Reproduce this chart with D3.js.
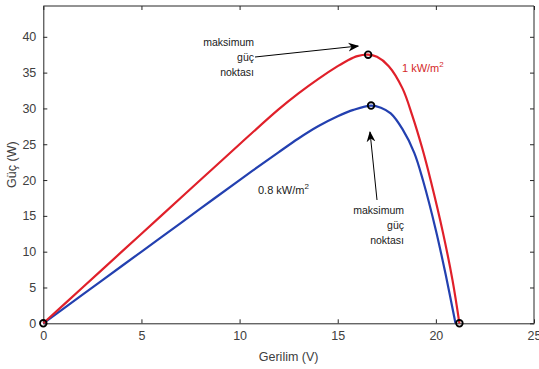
<!DOCTYPE html>
<html>
<head>
<meta charset="utf-8">
<script src="https://cdn.jsdelivr.net/npm/d3@7"></script>
<style>
  html, body { margin: 0; padding: 0; background: #fff; }
  #chart { width: 539px; height: 369px; }
</style>
</head>
<body>
<div id="chart"></div>
<script>
// P-V curves (voltage in V, power in W)
const voltage1kW = [0, 2, 4, 6, 8, 10, 12, 13, 14, 15, 15.5, 16, 16.55, 17, 17.6, 18.3, 18.8, 19.3, 19.75, 20.35, 20.85, 21.2];
const power1kW   = [0, 5.0, 10.0, 15.0, 20.0, 25.0, 29.9, 32.1, 34.1, 35.9, 36.7, 37.3, 37.5, 37.2, 35.9, 32.8, 29.0, 24.5, 19.8, 12.8, 6.0, 0];

const voltage08kW = [0, 2, 4, 6, 8, 10, 12, 13, 14, 15, 15.8, 16.7, 17.2, 17.7, 18.3, 18.9, 19.35, 20.0, 20.5, 21.0];
const power08kW   = [0, 4.0, 8.0, 12.0, 16.0, 20.0, 23.9, 25.8, 27.5, 28.9, 29.8, 30.4, 30.1, 29.3, 27.1, 23.8, 19.9, 13.0, 6.8, 0];

// marked points: origin, both maxima, open-circuit point
const markerV = [0, 16.55, 16.7, 21.2];
const markerP = [0, 37.5, 30.4, 0];

const xTicks = [0, 5, 10, 15, 20, 25];
const yTicks = [0, 5, 10, 15, 20, 25, 30, 35, 40];

const W = 539, H = 369;
const m = { left: 43.3, right: 5, top: 6, bottom: 45.7 };
const axisColor = "#262626";
const font = "'Liberation Sans', Arial, sans-serif";

const svg = d3.select("#chart").append("svg")
  .attr("width", W).attr("height", H)
  .style("font-family", font);

svg.append("rect").attr("width", W).attr("height", H).attr("fill", "#fff");

const x = d3.scaleLinear().domain([0, 25]).range([m.left, W - m.right]);
const y = d3.scaleLinear().domain([0, 44.3]).range([H - m.bottom, m.top]);

// arrow head
svg.append("defs").append("marker")
  .attr("id", "arrow")
  .attr("viewBox", "0 0 10 10")
  .attr("refX", 9).attr("refY", 5)
  .attr("markerWidth", 11).attr("markerHeight", 11)
  .attr("markerUnits", "userSpaceOnUse")
  .attr("orient", "auto")
  .append("path")
  .attr("d", "M0,1 L10,5 L0,9 L3,5 Z")
  .attr("fill", "#000");

// axes with inward ticks on all four sides
const gx = svg.append("g").attr("transform", `translate(0,${y(0)})`)
  .call(d3.axisBottom(x).tickValues(xTicks).tickSizeInner(-4).tickSizeOuter(0).tickPadding(8));
const gxTop = svg.append("g").attr("transform", `translate(0,${m.top})`)
  .call(d3.axisTop(x).tickValues(xTicks).tickSizeInner(-4).tickSizeOuter(0).tickFormat(""));
const gy = svg.append("g").attr("transform", `translate(${m.left},0)`)
  .call(d3.axisLeft(y).tickValues(yTicks).tickSizeInner(-4).tickSizeOuter(0).tickPadding(7));
const gyRight = svg.append("g").attr("transform", `translate(${W - m.right},0)`)
  .call(d3.axisRight(y).tickValues(yTicks).tickSizeInner(-4).tickSizeOuter(0).tickFormat(""));

[gx, gxTop, gy, gyRight].forEach(g => {
  g.select(".domain").attr("stroke", axisColor).attr("stroke-width", 1);
  g.selectAll(".tick line").attr("stroke", axisColor);
  g.selectAll(".tick text").attr("fill", "#404040").style("font-size", "12.5px").style("font-family", font);
});
// top/right domain lines span whole box
gxTop.select(".domain").attr("d", `M${m.left},0H${W - m.right}`);
gyRight.select(".domain").attr("d", `M0,${y(0)}V${m.top}`);

// axis titles
svg.append("text")
  .attr("x", (m.left + W - m.right) / 2).attr("y", 361)
  .attr("text-anchor", "middle").attr("fill", "#404040")
  .style("font-size", "12.5px")
  .text("Gerilim (V)");
svg.append("text")
  .attr("transform", `translate(16,${(m.top + y(0)) / 2}) rotate(-90)`)
  .attr("text-anchor", "middle").attr("fill", "#404040")
  .style("font-size", "12.5px")
  .text("Güç (W)");

// curves
const line = d3.line().x(d => x(d[0])).y(d => y(d[1])).curve(d3.curveCatmullRom.alpha(0.5));

svg.append("path")
  .datum(d3.zip(voltage08kW, power08kW))
  .attr("d", line).attr("fill", "none")
  .attr("stroke", "#2340b0").attr("stroke-width", 2.2);

svg.append("path")
  .datum(d3.zip(voltage1kW, power1kW))
  .attr("d", line).attr("fill", "none")
  .attr("stroke", "#e0202a").attr("stroke-width", 2.2);

svg.selectAll("circle.mk")
  .data(d3.zip(markerV, markerP))
  .join("circle").attr("class", "mk")
  .attr("cx", d => x(d[0])).attr("cy", d => y(d[1]))
  .attr("r", 3.3).attr("fill", "none")
  .attr("stroke", "#000").attr("stroke-width", 1.8);

// annotations
function label(lines, xr, y0, dy) {
  const t = svg.append("text").attr("text-anchor", "end")
    .attr("fill", "#1a1a1a").style("font-size", "10.5px");
  lines.forEach((s, i) => t.append("tspan").attr("x", xr).attr("y", y0 + i * dy).text(s));
}
label(["maksimum", "güç", "noktası"], 254, 46, 15);
label(["maksimum", "güç", "noktası"], 404, 214, 15);

svg.append("line")
  .attr("x1", 255).attr("y1", 57).attr("x2", x(16.55) - 10).attr("y2", 46)
  .attr("stroke", "#000").attr("stroke-width", 1).attr("marker-end", "url(#arrow)");
svg.append("line")
  .attr("x1", 377).attr("y1", 200).attr("x2", 370).attr("y2", 132)
  .attr("stroke", "#000").attr("stroke-width", 1).attr("marker-end", "url(#arrow)");

const t1 = svg.append("text").attr("x", 402).attr("y", 72)
  .attr("fill", "#d42a2a").style("font-size", "11px");
t1.append("tspan").text("1 kW/m");
t1.append("tspan").attr("dy", -5).style("font-size", "8px").text("2");

const t2 = svg.append("text").attr("x", 258).attr("y", 194)
  .attr("fill", "#1a1a1a").style("font-size", "11px");
t2.append("tspan").text("0.8 kW/m");
t2.append("tspan").attr("dy", -5).style("font-size", "8px").text("2");
</script>
</body>
</html>
